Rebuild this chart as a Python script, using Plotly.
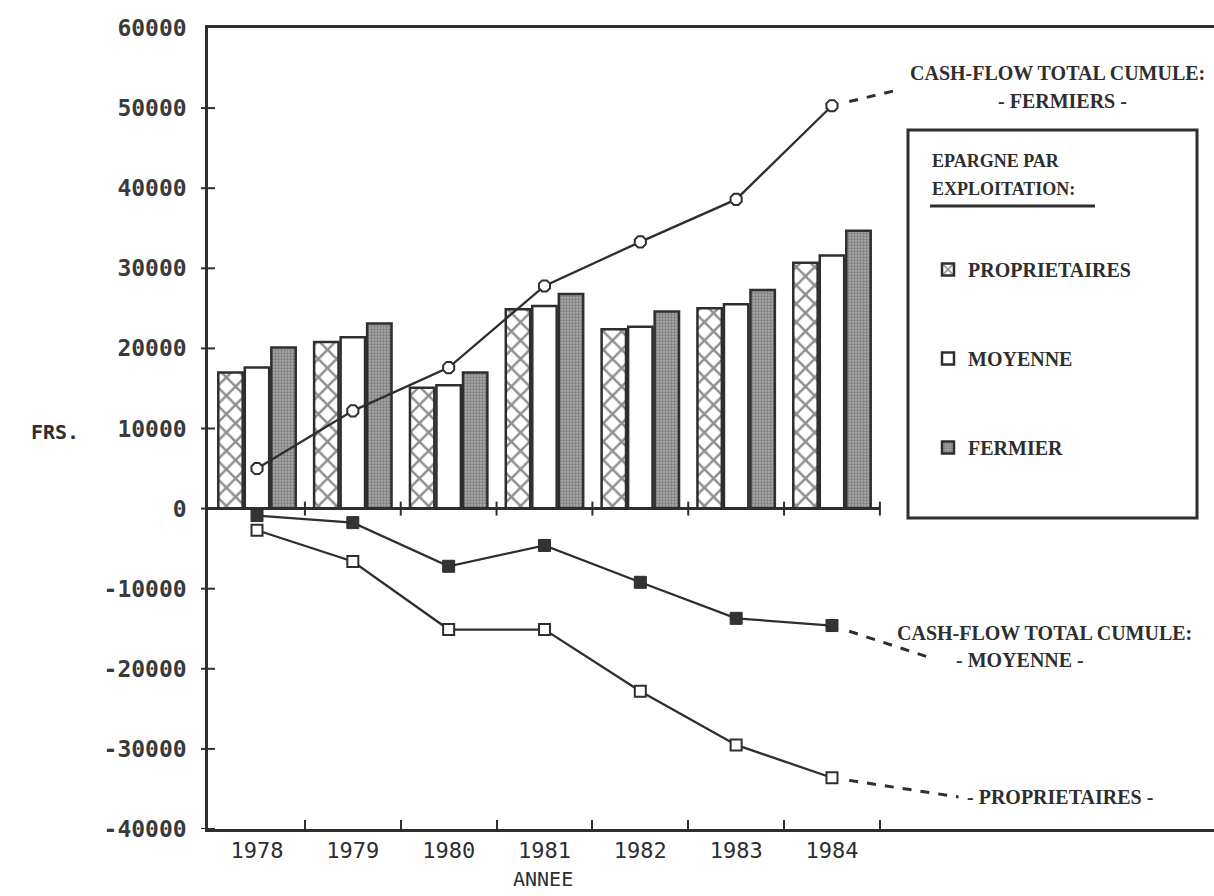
import plotly.graph_objects as go

years = [1978, 1979, 1980, 1981, 1982, 1983, 1984]
year_labels = ["1978", "1979", "1980", "1981", "1982", "1983", "1984"]

# Epargne par exploitation (bars)
epargne_proprietaires = [17000, 20800, 15100, 24900, 22400, 25000, 30700]
epargne_moyenne = [17600, 21400, 15400, 25300, 22700, 25500, 31600]
epargne_fermier = [20100, 23100, 17000, 26800, 24600, 27300, 34700]

# Cash-flow total cumule (lines)
cf_fermiers = [5000, 12200, 17600, 27800, 33300, 38600, 50300]
cf_moyenne = [-870, -1750, -7200, -4600, -9200, -13700, -14600]
cf_proprietaires = [-2700, -6600, -15100, -15100, -22800, -29500, -33600]

# label anchor points for the dashed leaders (x in years, y in FRS)
lead_fermiers = [1984.70, 52300]
lead_moyenne = [1985.02, -18600]
lead_proprietaires = [1985.32, -36000]

y_ticks = [60000, 50000, 40000, 30000, 20000, 10000, 0, -10000, -20000, -30000, -40000]
y_ticktext = ["60000", "50000", "40000", "30000", "20000", "10000", "0",
              "-10000", "-20000", "-30000", "-40000"]

INK = "#2e2e2e"
MONO = "DejaVu Sans Mono"
SERIF = "Liberation Serif"

W, H = 1214, 896
L, R, T, B = 208, 0, 28, 67
pw = W - L - R
ph = H - T - B
px_per_year = 95.83
x0 = 1978 - 49 / px_per_year
x1 = x0 + pw / px_per_year
ymin, ymax = -40000, 60000

fig = go.Figure()

bar_line = dict(color=INK, width=2.5)
fig.add_trace(go.Bar(
    x=years, y=epargne_proprietaires, name="<b>PROPRIETAIRES</b>", legendgroup="a",
    marker=dict(color="white", line=bar_line,
                pattern=dict(shape="x", fgcolor="#1e1e1e", bgcolor="white", size=13, solidity=0.35)),
))
fig.add_trace(go.Bar(
    x=years, y=epargne_moyenne, name="<b>MOYENNE</b>", legendgroup="b",
    marker=dict(color="white", line=bar_line),
))
fig.add_trace(go.Bar(
    x=years, y=epargne_fermier, name="<b>FERMIER</b>", legendgroup="c",
    marker=dict(color="#999999", line=bar_line,
                pattern=dict(shape=".", fgcolor="#4a4a4a", bgcolor="#a8a8a8", size=3, solidity=0.45)),
))

line_style = dict(color=INK, width=2.3)
fig.add_trace(go.Scatter(
    x=years, y=cf_fermiers, mode="lines+markers", showlegend=False,
    line=line_style, marker=dict(symbol="octagon", size=12, color="white", line=dict(color=INK, width=2)),
))
fig.add_trace(go.Scatter(
    x=years, y=cf_moyenne, mode="lines+markers", showlegend=False,
    line=line_style, marker=dict(symbol="square", size=12, color="#333333", line=dict(color=INK, width=1)),
))
fig.add_trace(go.Scatter(
    x=years, y=cf_proprietaires, mode="lines+markers", showlegend=False,
    line=line_style, marker=dict(symbol="square", size=11, color="white", line=dict(color=INK, width=2)),
))

# dashed leaders from last point to labels
dash_style = dict(color=INK, width=3, dash="dash")
for series, lead in [(cf_fermiers, lead_fermiers), (cf_moyenne, lead_moyenne),
                     (cf_proprietaires, lead_proprietaires)]:
    xs0 = years[-1] + 0.18
    ys0 = series[-1] + (lead[1] - series[-1]) * 0.18 / (lead[0] - years[-1])
    fig.add_trace(go.Scatter(x=[xs0, lead[0]], y=[ys0, lead[1]], mode="lines",
                             line=dash_style, showlegend=False, hoverinfo="skip"))

shapes = []
bounds = [y + 0.5 for y in years]
units_per_px = (ymax - ymin) / ph
# zero axis with crossing ticks, ending at last boundary
shapes.append(dict(type="line", xref="x", yref="y", x0=x0, x1=bounds[-1], y0=0, y1=0,
                   line=dict(color=INK, width=3)))
for bx in bounds:
    shapes.append(dict(type="line", xref="x", yref="y", x0=bx, x1=bx,
                       y0=-7 * units_per_px, y1=7 * units_per_px, line=dict(color=INK, width=2)))
# y-axis crossing ticks
for yv in y_ticks[1:]:
    shapes.append(dict(type="line", xref="paper", yref="y", x0=-7 / pw, x1=7 / pw, y0=yv, y1=yv,
                       line=dict(color=INK, width=2)))


def px_x(p):
    return (p - L) / pw


def px_y(p):
    return (H - B - p) / ph


# legend box and title underline
shapes.append(dict(type="rect", xref="paper", yref="paper",
                   x0=px_x(908), x1=px_x(1197), y0=px_y(518), y1=px_y(130),
                   line=dict(color=INK, width=3), fillcolor="rgba(0,0,0,0)"))
shapes.append(dict(type="line", xref="paper", yref="paper",
                   x0=px_x(930), x1=px_x(1095), y0=px_y(206), y1=px_y(206),
                   line=dict(color=INK, width=3)))

serif_font = dict(family=SERIF, size=20, color=INK)
legend_title_font = dict(family=SERIF, size=18, color=INK)
annotations = [
    dict(text="<b>EPARGNE PAR</b>", xref="paper", yref="paper", x=px_x(930), y=px_y(161),
         xanchor="left", yanchor="middle", showarrow=False, font=legend_title_font),
    dict(text="<b>EXPLOITATION:</b>", xref="paper", yref="paper", x=px_x(930), y=px_y(189),
         xanchor="left", yanchor="middle", showarrow=False, font=legend_title_font),
    dict(text="<b>CASH-FLOW TOTAL CUMULE:</b>", xref="paper", yref="paper", x=px_x(1057), y=px_y(73),
         xanchor="center", yanchor="middle", showarrow=False, font=serif_font),
    dict(text="<b>- FERMIERS -</b>", xref="paper", yref="paper", x=px_x(1062), y=px_y(101),
         xanchor="center", yanchor="middle", showarrow=False, font=serif_font),
    dict(text="<b>CASH-FLOW TOTAL CUMULE:</b>", xref="paper", yref="paper", x=px_x(1044), y=px_y(633),
         xanchor="center", yanchor="middle", showarrow=False, font=serif_font),
    dict(text="<b>- MOYENNE -</b>", xref="paper", yref="paper", x=px_x(1020), y=px_y(660),
         xanchor="center", yanchor="middle", showarrow=False, font=serif_font),
    dict(text="<b>- PROPRIETAIRES -</b>", xref="paper", yref="paper", x=px_x(1060), y=px_y(797),
         xanchor="center", yanchor="middle", showarrow=False, font=serif_font),
    dict(text="<b>FRS.</b>", xref="paper", yref="paper", x=px_x(55), y=px_y(432),
         xanchor="center", yanchor="middle", showarrow=False, font=dict(family=MONO, size=20, color=INK)),
    dict(text="ANNEE", xref="paper", yref="paper", x=px_x(543), y=px_y(879),
         xanchor="center", yanchor="middle", showarrow=False, font=dict(family=MONO, size=20, color=INK)),
]

fig.update_layout(
    width=W, height=H,
    margin=dict(l=L, r=R, t=T, b=B, pad=0),
    paper_bgcolor="white", plot_bgcolor="white",
    barmode="group", bargap=0.17, bargroupgap=0.08,
    showlegend=True,
    legend=dict(x=px_x(928), y=px_y(250), xanchor="left", yanchor="top",
                bgcolor="rgba(0,0,0,0)", borderwidth=0, tracegroupgap=60,
                font=dict(family=SERIF, size=20, color=INK), traceorder="grouped",
                itemclick=False),
    xaxis=dict(range=[x0, x1], tickvals=years, ticktext=year_labels, ticks="",
               showgrid=False, zeroline=False, showline=True, linecolor=INK, linewidth=3,
               mirror=True,
               tickfont=dict(family=MONO, size=22, color=INK),
               minor=dict(tickvals=bounds, ticks="inside", ticklen=9, tickwidth=2, tickcolor=INK)),
    yaxis=dict(range=[ymin, ymax], tickvals=y_ticks, ticktext=["<b>%s</b>" % t for t in y_ticktext],
               ticks="", showgrid=False, zeroline=False, showline=True, linecolor=INK, linewidth=2.5,
               tickfont=dict(family=MONO, size=23, color="#3a3a3a"), ticklabelstandoff=14),
    shapes=shapes,
    annotations=annotations,
)

fig.write_html("out.html", config={"displayModeBar": False},
               post_script="document.body.style.margin='0';document.body.style.padding='0';")
